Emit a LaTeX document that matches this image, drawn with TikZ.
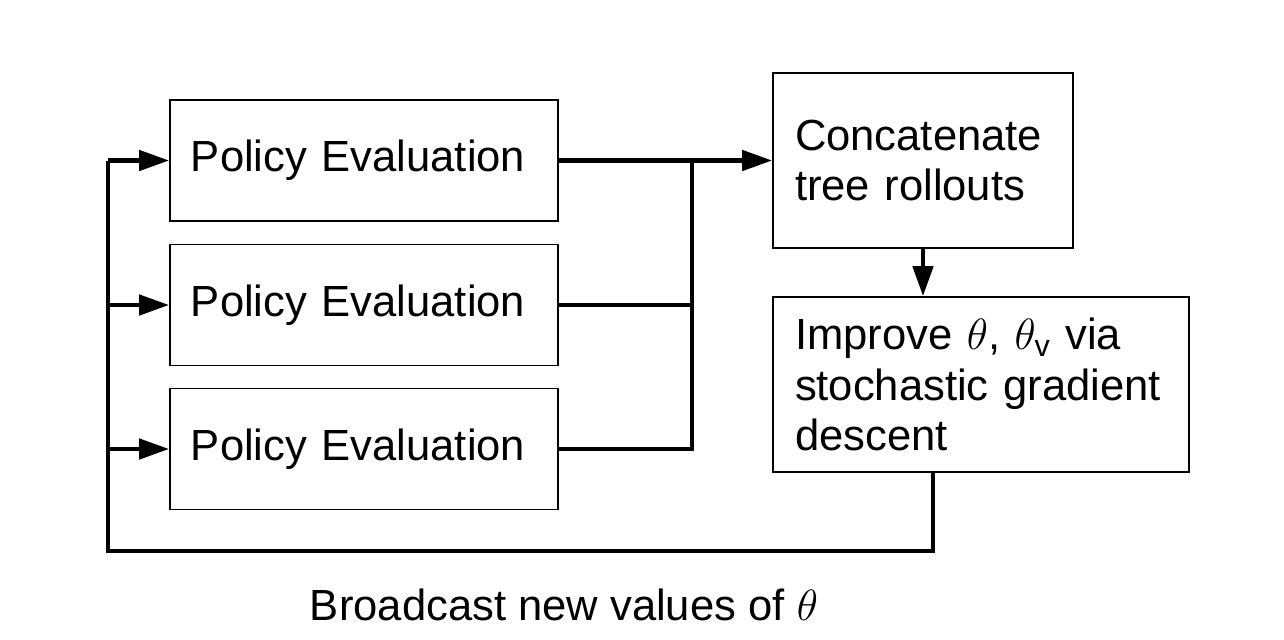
\documentclass[tikz,border=0pt]{standalone}
\usepackage{amsmath}
\usepackage{fontspec}
\setmainfont{Liberation Sans}
\usetikzlibrary{arrows.meta}
\begin{document}
\begin{tikzpicture}[
    font=\fontsize{24.8}{28.5}\selectfont,
    evalbox/.style={draw, line width=1.1pt, minimum width=7.76cm, minimum height=2.42cm, inner xsep=0.42cm, text width=6.92cm, align=left, anchor=west},
    workbox/.style={draw, line width=1.1pt, minimum height=3.5cm, inner xsep=0.44cm, align=left},
    link/.style={line width=2.3pt},
    >={Triangle[length=17pt,width=11.5pt]}
]
\useasboundingbox (0,0) rectangle (25.68,-12.78);
%\draw [help lines,black!20!white] (0,-13) grid (26,0);

\node[evalbox] (pe1) at (3.38,-3.21) {Policy Evaluation};
\node[evalbox] (pe2) at (3.38,-6.10) {Policy Evaluation};
\node[evalbox] (pe3) at (3.38,-8.98) {Policy Evaluation};

\node[workbox, minimum width=6cm, text width=5.12cm] (concat) at (18.46,-3.21) {Concatenate\\tree rollouts};
\node[workbox, minimum width=8.32cm, text width=7.44cm] (improve) at (19.62,-7.69) {Improve $\theta$, $\theta_{\text{v}}$ via\\stochastic gradient\\descent};

\coordinate (merge) at (13.84,-3.21);
\coordinate (fbstart) at (18.66,-9.44);
\coordinate (corner) at (2.16,-11.02);

% gather results
\draw[link,->] (pe1.east) -- (concat.west);
\draw[link] (pe2.east) -- (pe2.east -| merge);
\draw[link] (pe3.east) -| (merge);
\draw[link,->] (concat.south) -- (concat.south |- improve.north);

% broadcast back
\draw[link] (fbstart) |- (corner) -- (corner |- pe1.west);
\foreach \n in {1,2,3}
       \draw[link,->] (corner |- pe\n.west) -- (pe\n.west);

\node (bcast) at (11.28,-12.1) {Broadcast new values of $\theta$};

\end{tikzpicture}
\end{document}
